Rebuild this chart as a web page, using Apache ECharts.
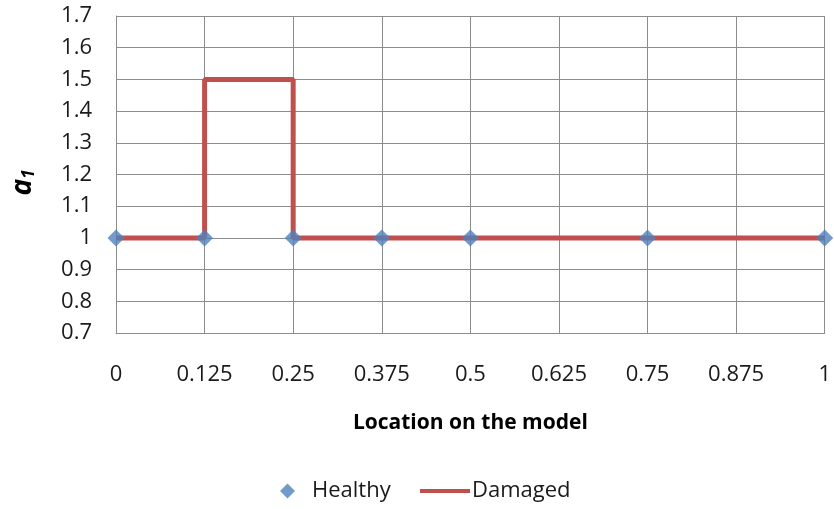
<!DOCTYPE html>
<html><head><meta charset="utf-8">
<script src="https://cdn.jsdelivr.net/npm/echarts@6/dist/echarts.min.js"></script>
<style>html,body{margin:0;padding:0;background:#fff}#c{width:834px;height:509px}</style>
</head><body><div id="c"></div>
<script>
const xTicks = [0, 0.125, 0.25, 0.375, 0.5, 0.625, 0.75, 0.875, 1];
const healthyX = [0, 0.125, 0.25, 0.375, 0.5, 0.75, 1];
const healthyY = [1, 1, 1, 1, 1, 1, 1];
const damagedX = [0, 0.125, 0.125, 0.25, 0.25, 1];
const damagedY = [1, 1, 1.5, 1.5, 1, 1];
const font = '"Open Sans", "Liberation Sans", sans-serif';
const chart = echarts.init(document.getElementById('c'));
chart.setOption({
  animation: false,
  grid: {left: 116, right: 8, top: 16, bottom: 176, containLabel: false},
  xAxis: {
    type: 'value', min: 0, max: 1, interval: 0.125,
    axisLine: {show: true, lineStyle: {color: '#8c8c8c', width: 1}},
    axisTick: {show: false},
    splitLine: {show: true, lineStyle: {color: '#8c8c8c', width: 1}},
    axisLabel: {color: '#1a1a1a', fontSize: 22, fontFamily: font, margin: 31,
      formatter: v => String(parseFloat(v.toFixed(3)))},
    name: 'Location on the model', nameLocation: 'middle', nameGap: 80,
    nameTextStyle: {color: '#000', fontSize: 21, fontWeight: 'bold', fontFamily: font}
  },
  yAxis: {
    type: 'value', min: 0.7, max: 1.7, interval: 0.1,
    axisLine: {show: true, lineStyle: {color: '#8c8c8c', width: 1}},
    axisTick: {show: false},
    splitLine: {show: true, lineStyle: {color: '#8c8c8c', width: 1}},
    axisLabel: {color: '#1a1a1a', fontSize: 22, fontFamily: font, margin: 24,
      formatter: v => String(parseFloat(v.toFixed(1)))},
    name: '{a|a}{s|1}', nameLocation: 'middle', nameGap: 78, nameRotate: 90,
    nameTextStyle: {padding: [0, 16, 0, 0], rich: {
      a: {fontSize: 28, fontWeight: 'bold', fontStyle: 'italic', fontFamily: font, color: '#000'},
      s: {fontSize: 17, fontWeight: 'bold', fontStyle: 'italic', fontFamily: font, color: '#000', verticalAlign: 'bottom', padding: [12,0,0,0]}
    }}
  },
  legend: [
    {
      left: 275, bottom: 2, itemWidth: 15, itemHeight: 15, itemGap: 12,
      textStyle: {fontSize: 22, fontFamily: font, color: '#1a1a1a', padding: [0,0,0,12]},
      data: [{name: 'Healthy', icon: 'diamond'}]
    },
    {
      left: 415, bottom: 2, itemWidth: 50, itemHeight: 4,
      textStyle: {fontSize: 22, fontFamily: font, color: '#1a1a1a', padding: [0,0,0,-3]},
      data: [{name: 'Damaged', icon: 'rect'}]
    }
  ],
  series: [
    {name: 'Damaged', type: 'line', data: damagedX.map((x, i) => [x, damagedY[i]]),
      showSymbol: false, symbol: 'none', z: 2,
      lineStyle: {color: '#c0504d', width: 5}, itemStyle: {color: '#c0504d'}},
    {name: 'Healthy', type: 'scatter', data: healthyX.map((x, i) => [x, healthyY[i]]),
      symbol: 'diamond', symbolSize: [17, 17], z: 3, clip: false,
      itemStyle: {color: '#4f81bd'}}
  ]
});
</script></body></html>
